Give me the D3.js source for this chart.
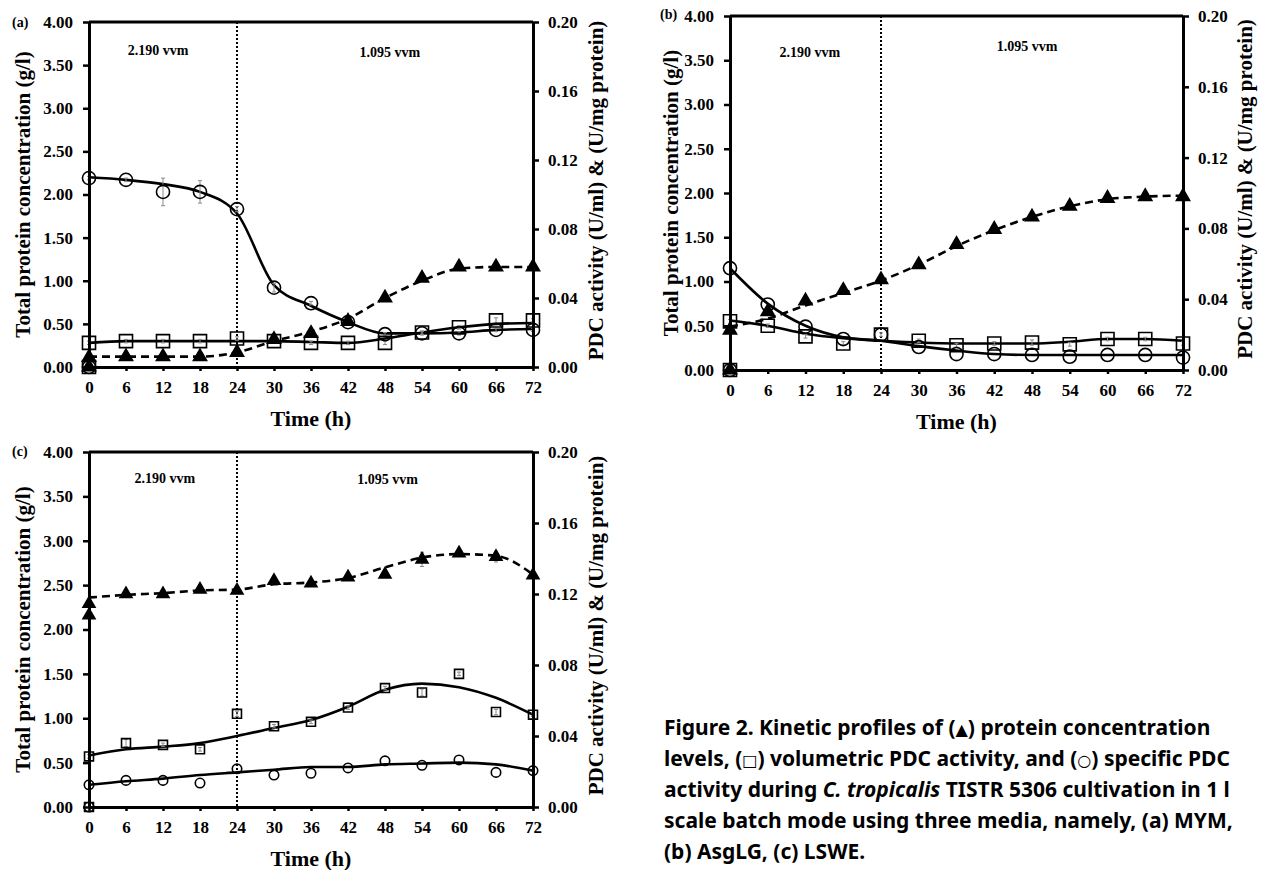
<!DOCTYPE html>
<html>
<head>
<meta charset="utf-8">
<script src="https://cdn.jsdelivr.net/npm/d3@7"></script>
<style>
  body { margin: 0; background: #fff; }
  svg text { fill: #000; }
</style>
</head>
<body>
<svg id="fig"></svg>
<script>
const W = 1261, H = 870;
const svg = d3.select('svg#fig').attr('width', W).attr('height', H);

// DATA
const hours = [0, 6, 12, 18, 24, 30, 36, 42, 48, 54, 60, 66, 72];
const leftTicks = [0, 0.5, 1, 1.5, 2, 2.5, 3, 3.5, 4];
const rightTicks = [0, 0.04, 0.08, 0.12, 0.16, 0.20];
const phaseLabels = ['2.190 vvm', '1.095 vvm'];
const switchHour = 24;

// (a) MYM -- triangles on left axis (g/l), squares & circles on right axis
const aTri      = [0.11, 0.12, 0.12, 0.12, 0.17, 0.32, 0.39, 0.53, 0.80, 1.03, 1.16, 1.16, 1.16];
const aTriLine  = [0.12, 0.12, 0.12, 0.12, 0.17, 0.30, 0.41, 0.56, 0.80, 1.00, 1.14, 1.16, 1.16];
const aSq       = [0.014, 0.015, 0.015, 0.015, 0.0165, 0.015, 0.014, 0.014, 0.014, 0.020, 0.023, 0.027, 0.027];
const aSqLine   = [0.014, 0.015, 0.015, 0.015, 0.015, 0.015, 0.0145, 0.014, 0.0165, 0.020, 0.023, 0.025, 0.0255];
const aSqErr    = [0.001, 0.001, 0.001, 0.001, 0.001, 0.001, 0.001, 0.001, 0.001, 0.001, 0.001, 0.0015, 0.001];
const aCirc     = [0.1095, 0.1085, 0.1015, 0.1015, 0.0915, 0.046, 0.037, 0.026, 0.019, 0.0195, 0.0195, 0.0215, 0.0215];
const aCircLine = [0.110, 0.1085, 0.106, 0.1015, 0.089, 0.0475, 0.0355, 0.026, 0.0195, 0.0195, 0.020, 0.0215, 0.022];
const aCircErr  = [0.001, 0.001, 0.008, 0.0065, 0.0015, 0.0025, 0.001, 0.001, 0.001, 0.001, 0.001, 0.001, 0.001];

// (b) AsgLG
const bTri      = [0.45, 0.66, 0.78, 0.90, 1.02, 1.19, 1.42, 1.59, 1.73, 1.85, 1.94, 1.96, 1.96];
const bTriLine  = [0.49, 0.58, 0.73, 0.87, 1.01, 1.19, 1.40, 1.58, 1.73, 1.85, 1.93, 1.96, 1.97];
const bSq       = [0.0275, 0.025, 0.019, 0.015, 0.020, 0.0165, 0.014, 0.015, 0.0155, 0.0145, 0.0175, 0.0175, 0.015];
const bSqLine   = [0.028, 0.025, 0.0205, 0.018, 0.0165, 0.0155, 0.015, 0.015, 0.015, 0.016, 0.0175, 0.0175, 0.0165];
const bSqErr    = [0.001, 0.001, 0.001, 0.001, 0.001, 0.001, 0.001, 0.001, 0.0015, 0.001, 0.001, 0.001, 0.001];
const bCirc     = [0.0575, 0.037, 0.0245, 0.0175, 0.020, 0.013, 0.009, 0.009, 0.0085, 0.0075, 0.0085, 0.0085, 0.007];
const bCircLine = [0.0575, 0.0375, 0.025, 0.0185, 0.0165, 0.0135, 0.011, 0.009, 0.0085, 0.0085, 0.0085, 0.0085, 0.0085];

// (c) LSWE
const cTri      = [2.29, 2.40, 2.40, 2.45, 2.44, 2.55, 2.52, 2.59, 2.62, 2.79, 2.86, 2.82, 2.61];
const cTriFirst = [2.16];
const cTriLine  = [2.36, 2.39, 2.41, 2.44, 2.45, 2.51, 2.53, 2.58, 2.70, 2.81, 2.85, 2.83, 2.62];
const cTriErr   = [0.01, 0.01, 0.01, 0.02, 0.02, 0.01, 0.02, 0.02, 0.02, 0.08, 0.03, 0.06, 0.02];
const cSq       = [0.0285, 0.036, 0.035, 0.0325, 0.0525, 0.0455, 0.048, 0.056, 0.067, 0.0645, 0.075, 0.0535, 0.052];
const cSqLine   = [0.029, 0.0325, 0.034, 0.036, 0.040, 0.0445, 0.049, 0.0565, 0.066, 0.0695, 0.0675, 0.0615, 0.052];
const cSqErr    = [0.001, 0.002, 0.001, 0.001, 0.0015, 0.001, 0.001, 0.001, 0.001, 0.002, 0.001, 0.0015, 0.001];
const cCirc     = [0.0125, 0.015, 0.015, 0.0135, 0.0215, 0.018, 0.019, 0.022, 0.026, 0.0235, 0.0265, 0.0195, 0.0205];
const cCircLine = [0.0125, 0.0145, 0.016, 0.018, 0.0195, 0.021, 0.0225, 0.0225, 0.024, 0.0245, 0.025, 0.024, 0.0205];

// caption pieces: [text, style]  b = bold lead, i = italic, s = symbol glyph
const captionLines = [
  [['Figure 2.', 'b'], [' Kinetic profiles of (', ''], ['▲', 's'], [') protein concentration', '']],
  [['levels, (', ''], ['□', 's'], [') volumetric PDC activity, and (', ''], ['○', 's'], [') specific PDC', '']],
  [['activity during ', ''], ['C. tropicalis', 'i'], [' TISTR 5306 cultivation in 1 l', '']],
  [['scale batch mode using three media, namely, (a) MYM,', '']],
  [['(b) AsgLG, (c) LSWE.', '']]
];

// LAYOUT
const serif = "'Liberation Serif', 'Times New Roman', serif";
const panels = [
  {tag: '(a)', box: {l: 89, r: 533, t: 22, b: 367}, tagPos: [12, 27],
   tri: aTri, triLine: aTriLine, sq: aSq, sqLine: aSqLine, sqErr: aSqErr,
   circ: aCirc, circLine: aCircLine, circErr: aCircErr,
   origin: ['sq', 'circ', 'tri'], big: true, phase: [[11.2, 33], [48.8, 35]], titleL: 30, titleR: 603},
  {tag: '(b)', box: {l: 730, r: 1183, t: 16, b: 370}, tagPos: [660, 19],
   tri: bTri, triLine: bTriLine, sq: bSq, sqLine: bSqLine, sqErr: bSqErr,
   circ: bCirc, circLine: bCircLine,
   origin: ['sq', 'circ', 'tri'], big: true, phase: [[12.7, 41], [47.2, 35]], titleL: 678, titleR: 1252},
  {tag: '(c)', box: {l: 89, r: 533, t: 452, b: 807}, tagPos: [12, 456],
   tri: cTri, triFirst: cTriFirst, triLine: cTriLine, triErr: cTriErr, sq: cSq, sqLine: cSqLine, sqErr: cSqErr,
   circ: cCirc, circLine: cCircLine,
   origin: ['sq', 'circ'], big: false, phase: [[12.3, 31], [48.4, 32]], titleL: 30, titleR: 603}
];

panels.forEach(drawPanel);
drawCaption();

//--------FUNCTIONS--------

function drawPanel(p) {
  const g = svg.append('g');
  const x = d3.scaleLinear().domain([0, 72]).range([p.box.l, p.box.r]);
  const yL = d3.scaleLinear().domain([0, 4]).range([p.box.b, p.box.t]);
  const yR = d3.scaleLinear().domain([0, 0.2]).range([p.box.b, p.box.t]);

  // aeration switch
  g.append('line')
    .attr('x1', x(switchHour)).attr('x2', x(switchHour))
    .attr('y1', yL(4)).attr('y2', yL(0))
    .attr('stroke', '#000').attr('stroke-width', 2)
    .attr('stroke-dasharray', '2,2');

  g.selectAll('text.phase')
    .data(phaseLabels)
    .join('text')
    .attr('x', (d, i) => x(p.phase[i][0]))
    .attr('y', (d, i) => p.box.t + p.phase[i][1])
    .attr('text-anchor', 'middle')
    .style('font-family', serif).style('font-weight', 'bold').style('font-size', '14px')
    .text(d => d);

  // trend lines
  const line = scale => d3.line()
    .x((d, i) => x(hours[i]))
    .y(d => scale(d))
    .curve(d3.curveMonotoneX);

  [[p.sqLine, yR, null], [p.circLine, yR, null], [p.triLine, yL, '8,5']].forEach(([vals, sc, dash]) => {
    g.append('path')
      .attr('d', line(sc)(vals))
      .attr('fill', 'none')
      .attr('stroke', '#000')
      .attr('stroke-width', 2.6)
      .attr('stroke-dasharray', dash);
  });

  // error bars
  const errs = [[p.sq, p.sqErr, yR], [p.circ, p.circErr, yR], [p.tri, p.triErr, yL]];
  errs.forEach(([vals, err, sc]) => {
    if (!err) return;
    const eg = g.append('g').attr('stroke', '#8a8a8a').attr('stroke-width', 1);
    vals.forEach((v, i) => {
      const cx = x(hours[i]);
      eg.append('line').attr('x1', cx).attr('x2', cx).attr('y1', sc(v - err[i])).attr('y2', sc(v + err[i]));
      eg.append('line').attr('x1', cx - 2).attr('x2', cx + 2).attr('y1', sc(v - err[i])).attr('y2', sc(v - err[i]));
      eg.append('line').attr('x1', cx - 2).attr('x2', cx + 2).attr('y1', sc(v + err[i])).attr('y2', sc(v + err[i]));
    });
  });

  // markers
  const size = p.big ? {sq: 170, circ: 135, tri: 75} : {sq: 80, circ: 70, tri: 62};
  const sym = {
    sq: d3.symbol().type(d3.symbolSquare).size(size.sq),
    circ: d3.symbol().type(d3.symbolCircle).size(size.circ),
    tri: d3.symbol().type(d3.symbolTriangle).size(size.tri)
  };
  const drawMarks = (vals, hrs, sc, kind) => {
    g.append('g').selectAll('path')
      .data(vals)
      .join('path')
      .attr('d', sym[kind]())
      .attr('transform', (d, i) => `translate(${x(hrs[i])},${sc(d)})`)
      .attr('fill', kind === 'tri' ? '#000' : 'none')
      .attr('stroke', '#000')
      .attr('stroke-width', 1.6);
  };
  drawMarks(p.sq, hours, yR, 'sq');
  drawMarks(p.circ, hours, yR, 'circ');
  drawMarks(p.tri, hours, yL, 'tri');
  if (p.triFirst) drawMarks(p.triFirst, [0], yL, 'tri');
  p.origin.forEach(k => drawMarks([0], [0], yL, k));

  // axes
  const styleAxis = ax => {
    ax.select('.domain').attr('stroke-width', 3);
    ax.selectAll('.tick line').attr('stroke-width', 2.5);
    ax.style('font-family', serif).style('font-size', '17px').style('font-weight', 'bold');
  };

  g.append('line')
    .attr('x1', p.box.l).attr('x2', p.box.r)
    .attr('y1', p.box.t).attr('y2', p.box.t)
    .attr('stroke', '#000').attr('stroke-width', 3);

  g.append('g')
    .attr('transform', `translate(${p.box.l},0)`)
    .call(d3.axisLeft(yL).tickValues(leftTicks).tickFormat(d3.format('.2f'))
      .tickSize(6).tickSizeOuter(0).tickPadding(10))
    .call(styleAxis);

  g.append('g')
    .attr('transform', `translate(${p.box.r},0)`)
    .call(d3.axisRight(yR).tickValues(rightTicks).tickFormat(d3.format('.2f'))
      .tickSize(6).tickSizeOuter(0).tickPadding(9))
    .call(styleAxis);

  g.append('g')
    .attr('transform', `translate(0,${p.box.b})`)
    .call(d3.axisBottom(x).tickValues(hours).tickFormat(d => d)
      .tickSize(4).tickSizeOuter(0).tickPadding(10))
    .call(styleAxis);

  // titles
  const midY = (p.box.t + p.box.b) / 2;
  g.append('text')
    .attr('transform', `translate(${p.titleL},${midY}) rotate(-90)`)
    .attr('text-anchor', 'middle')
    .style('font-family', serif).style('font-weight', 'bold').style('font-size', '21px')
    .text('Total protein concentration (g/l)');

  g.append('text')
    .attr('transform', `translate(${p.titleR},${midY - 4}) rotate(-90)`)
    .attr('text-anchor', 'middle')
    .style('font-family', serif).style('font-weight', 'bold').style('font-size', '21px')
    .text('PDC activity (U/ml) & (U/mg protein)');

  g.append('text')
    .attr('x', (p.box.l + p.box.r) / 2)
    .attr('y', p.box.b + 59)
    .attr('text-anchor', 'middle')
    .style('font-family', serif).style('font-weight', 'bold').style('font-size', '22px')
    .text('Time (h)');

  g.append('text')
    .attr('x', p.tagPos[0]).attr('y', p.tagPos[1])
    .style('font-family', serif).style('font-weight', 'bold').style('font-size', '14px')
    .text(p.tag);
}

function drawCaption() {
  const cap = svg.append('text')
    .style('font-family', "'Noto Sans', sans-serif")
    .style('font-weight', 'bold')
    .style('font-size', '21px');
  captionLines.forEach((parts, li) => {
    parts.forEach(([txt, st], pi) => {
      const t = cap.append('tspan').text(txt);
      if (pi === 0) t.attr('x', 664).attr('y', 735 + li * 31);
      if (st === 'i') t.style('font-style', 'italic');
      if (st === 's') t.style('font-family', "'DejaVu Sans', sans-serif").style('font-size', '16px');
    });
  });
}
</script>
</body>
</html>
